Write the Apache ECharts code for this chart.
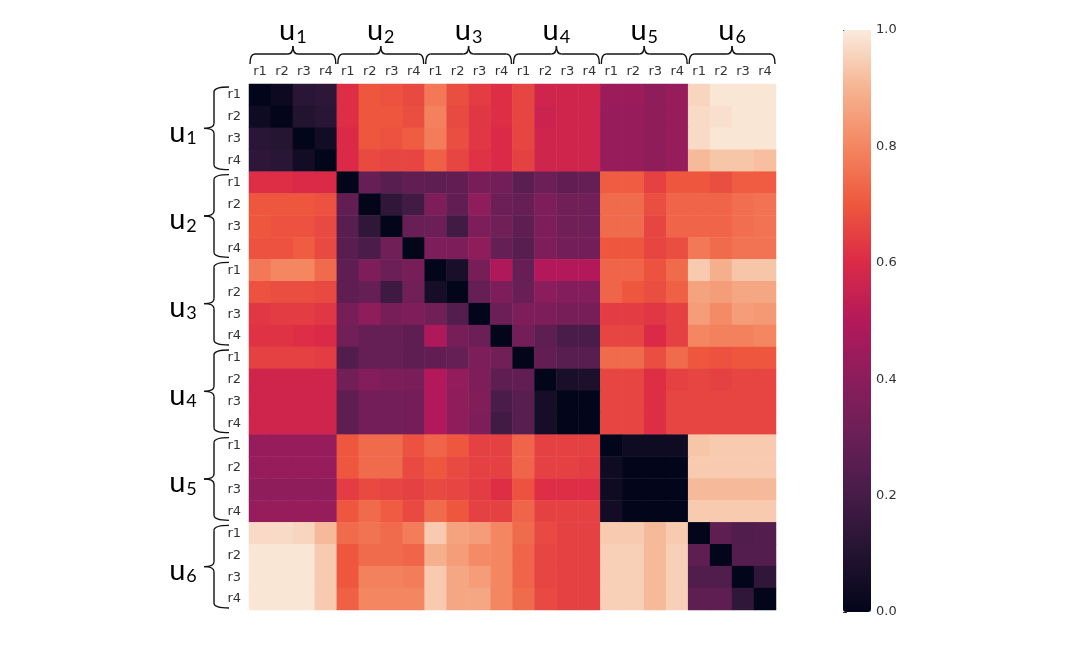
<!DOCTYPE html>
<html>
<head>
    <meta charset="utf-8">
    <script src="https://cdn.jsdelivr.net/npm/echarts@6/dist/echarts.min.js"></script>
    <style>
        html, body { margin: 0; padding: 0; background: #fff; }
    </style>
</head>
<body>
<div id="main" style="width: 1076px;height:656px;"></div>
<script type="text/javascript">

// group names and the per-group sub labels
var groups = ['1', '2', '3', '4', '5', '6'];
var subLabels = ['r1', 'r2', 'r3', 'r4'];

// distance rows, one array per user block (4 rows x 24 columns each)
var u1Rows = [
    [0.00,0.03,0.12,0.13, 0.61,0.70,0.69,0.67, 0.77,0.68,0.64,0.61, 0.66,0.57,0.57,0.57, 0.44,0.44,0.41,0.43, 0.96,0.99,0.99,0.99],
    [0.04,0.00,0.10,0.12, 0.61,0.70,0.70,0.68, 0.79,0.67,0.63,0.61, 0.66,0.56,0.57,0.57, 0.43,0.43,0.41,0.43, 0.97,0.98,0.99,0.99],
    [0.12,0.11,0.00,0.05, 0.60,0.70,0.69,0.71, 0.78,0.68,0.63,0.60, 0.66,0.57,0.57,0.57, 0.43,0.43,0.41,0.43, 0.97,0.99,0.99,0.99],
    [0.13,0.12,0.05,0.00, 0.60,0.67,0.66,0.66, 0.72,0.66,0.62,0.60, 0.65,0.57,0.57,0.57, 0.43,0.43,0.41,0.43, 0.91,0.93,0.93,0.92]
];
var u2Rows = [
    [0.61,0.61,0.60,0.60, 0.00,0.29,0.25,0.28, 0.27,0.28,0.34,0.33, 0.26,0.31,0.28,0.29, 0.71,0.71,0.65,0.70, 0.70,0.68,0.71,0.71],
    [0.70,0.70,0.70,0.69, 0.28,0.00,0.14,0.19, 0.36,0.28,0.41,0.31, 0.29,0.36,0.32,0.32, 0.74,0.74,0.68,0.73, 0.73,0.73,0.75,0.76],
    [0.70,0.69,0.69,0.67, 0.25,0.14,0.00,0.30, 0.31,0.19,0.36,0.32, 0.27,0.36,0.32,0.32, 0.74,0.74,0.66,0.73, 0.73,0.73,0.75,0.76],
    [0.69,0.69,0.71,0.67, 0.25,0.21,0.32,0.00, 0.36,0.36,0.41,0.29, 0.25,0.36,0.33,0.33, 0.70,0.70,0.66,0.68, 0.77,0.74,0.76,0.76]
];
var u3Rows = [
    [0.77,0.80,0.80,0.74, 0.27,0.36,0.31,0.34, 0.00,0.07,0.34,0.49, 0.29,0.50,0.50,0.50, 0.73,0.73,0.69,0.74, 0.94,0.89,0.93,0.93],
    [0.69,0.68,0.68,0.67, 0.27,0.29,0.18,0.32, 0.06,0.00,0.29,0.36, 0.30,0.40,0.38,0.38, 0.73,0.70,0.68,0.72, 0.86,0.85,0.87,0.87],
    [0.63,0.64,0.64,0.63, 0.34,0.41,0.34,0.36, 0.32,0.24,0.00,0.31, 0.36,0.36,0.34,0.34, 0.64,0.64,0.63,0.65, 0.85,0.81,0.85,0.84],
    [0.62,0.62,0.61,0.60, 0.32,0.29,0.29,0.27, 0.49,0.34,0.31,0.00, 0.33,0.27,0.21,0.21, 0.66,0.66,0.60,0.65, 0.80,0.79,0.79,0.80]
];
var u4Rows = [
    [0.65,0.65,0.65,0.64, 0.23,0.29,0.29,0.27, 0.28,0.29,0.36,0.32, 0.00,0.28,0.25,0.25, 0.74,0.74,0.68,0.74, 0.70,0.69,0.70,0.70],
    [0.57,0.57,0.57,0.57, 0.32,0.38,0.36,0.35, 0.50,0.42,0.36,0.27, 0.28,0.00,0.07,0.08, 0.66,0.66,0.61,0.65, 0.66,0.65,0.66,0.66],
    [0.57,0.57,0.57,0.57, 0.27,0.33,0.33,0.33, 0.50,0.41,0.37,0.21, 0.25,0.06,0.00,0.00, 0.66,0.66,0.61,0.66, 0.66,0.66,0.66,0.66],
    [0.57,0.57,0.57,0.57, 0.27,0.33,0.33,0.33, 0.50,0.41,0.36,0.19, 0.25,0.06,0.00,0.00, 0.66,0.66,0.61,0.66, 0.66,0.66,0.66,0.66]
];
var u5Rows = [
    [0.43,0.43,0.43,0.43, 0.70,0.74,0.74,0.69, 0.73,0.70,0.65,0.65, 0.73,0.65,0.65,0.65, 0.00,0.04,0.04,0.04, 0.93,0.94,0.94,0.94],
    [0.43,0.43,0.43,0.43, 0.70,0.74,0.74,0.67, 0.70,0.67,0.65,0.65, 0.73,0.65,0.65,0.64, 0.04,0.00,0.00,0.00, 0.94,0.94,0.94,0.94],
    [0.41,0.41,0.41,0.41, 0.64,0.67,0.66,0.65, 0.67,0.66,0.64,0.61, 0.69,0.61,0.61,0.61, 0.04,0.00,0.00,0.00, 0.91,0.91,0.91,0.91],
    [0.43,0.43,0.43,0.43, 0.70,0.74,0.71,0.67, 0.74,0.70,0.65,0.65, 0.73,0.65,0.65,0.65, 0.05,0.00,0.00,0.00, 0.94,0.94,0.94,0.94]
];
var u6Rows = [
    [0.97,0.97,0.96,0.91, 0.74,0.76,0.74,0.78, 0.94,0.86,0.85,0.80, 0.74,0.67,0.65,0.65, 0.94,0.94,0.91,0.94, 0.00,0.27,0.23,0.24],
    [0.99,0.99,0.99,0.94, 0.70,0.74,0.74,0.73, 0.89,0.85,0.81,0.80, 0.73,0.66,0.65,0.65, 0.95,0.95,0.91,0.95, 0.27,0.00,0.24,0.24],
    [0.99,0.99,0.99,0.94, 0.70,0.79,0.79,0.78, 0.94,0.87,0.85,0.80, 0.73,0.66,0.65,0.65, 0.95,0.95,0.91,0.95, 0.23,0.23,0.00,0.14],
    [0.99,0.99,0.99,0.94, 0.72,0.80,0.80,0.80, 0.94,0.87,0.87,0.80, 0.74,0.67,0.65,0.65, 0.95,0.95,0.91,0.95, 0.27,0.27,0.14,0.00]
];

// seaborn "rocket" colour ramp
var rocket = ['#03051A','#221331','#451C47','#691F56','#8B1D5C','#B3195A',
              '#DB2A47','#EE573E','#F48661','#F6B491','#FAEBDD'];

var allRows = [].concat(u1Rows, u2Rows, u3Rows, u4Rows, u5Rows, u6Rows);
var cats = [];
groups.forEach(function () { subLabels.forEach(function (s) { cats.push(s); }); });

var heat = [];
allRows.forEach(function (row, y) {
    row.forEach(function (v, x) { heat.push([x, y, v]); });
});

// plot box
var G = { left: 249, top: 84, width: 527, height: 526 };
var cw = G.width / 24, ch = G.height / 24;

var myChart = echarts.init(document.getElementById('main'));

var braceStyle = { stroke: '#111', lineWidth: 1.4, fill: null };
var graphics = [];

function curve(ax, ay, cx, cy, bx, by) {
    graphics.push({ type: 'bezierCurve', shape: { x1: ax, y1: ay, cpx1: cx, cpy1: cy, x2: bx, y2: by }, style: braceStyle });
}
function seg(ax, ay, bx, by) {
    graphics.push({ type: 'line', shape: { x1: ax, y1: ay, x2: bx, y2: by }, style: braceStyle });
}
function label(x, y, g) {
    graphics.push({
        type: 'text', x: x, y: y,
        style: {
            text: '{u|u}{s|' + g + '}', align: 'center', verticalAlign: 'middle',
            rich: {
                u: { fontFamily: 'Lato', fontSize: 29, fill: '#000', padding: [0, 1, 0, 0] },
                s: { fontFamily: 'Lato', fontSize: 18, fill: '#000', padding: [12, 0, 0, 0] }
            }
        }
    });
}

groups.forEach(function (g, i) {
    var r = 5;
    // top brace
    var x0 = G.left + i * 4 * cw + 1, x1 = G.left + (i + 1) * 4 * cw - 1, xm = (x0 + x1) / 2;
    var yb = 64, yh = 54, yt = 46;
    curve(x0, yb, x0, yh, x0 + r, yh);
    seg(x0 + r, yh, xm - r, yh);
    curve(xm - r, yh, xm, yh, xm, yt);
    curve(xm, yt, xm, yh, xm + r, yh);
    seg(xm + r, yh, x1 - r, yh);
    curve(x1 - r, yh, x1, yh, x1, yb);
    label(xm, 31, g);

    // left brace
    var y0 = G.top + i * 4 * ch + 3, y1 = G.top + (i + 1) * 4 * ch - 2, ym = (y0 + y1) / 2;
    var xb = 229, xh = 214, xt = 204;
    curve(xb, y0, xh, y0, xh, y0 + r);
    seg(xh, y0 + r, xh, ym - r);
    curve(xh, ym - r, xh, ym, xt, ym);
    curve(xt, ym, xh, ym, xh, ym + r);
    seg(xh, ym + r, xh, y1 - r);
    curve(xh, y1 - r, xh, y1, xb, y1);
    label(183, ym + 4, g);
});

var option = {
    backgroundColor: '#fff',
    animation: false,
    grid: [
        { left: G.left, top: G.top, width: G.width, height: G.height },
        { left: 843, top: 30, width: 28, height: 582 }
    ],
    xAxis: [
        {
            type: 'category', data: cats, position: 'top', gridIndex: 0,
            axisLine: { show: false }, axisTick: { show: false }, splitArea: { show: false },
            axisLabel: { interval: 0, fontFamily: 'DejaVu Sans', fontSize: 13, color: '#333', margin: 6 }
        },
        { type: 'value', gridIndex: 1, show: false }
    ],
    yAxis: [
        {
            type: 'category', data: cats, inverse: true, gridIndex: 0,
            axisLine: { show: false }, axisTick: { show: false }, splitArea: { show: false },
            axisLabel: { interval: 0, fontFamily: 'DejaVu Sans', fontSize: 13, color: '#333', margin: 8 }
        },
        {
            type: 'value', gridIndex: 1, position: 'right', min: 0, max: 1, interval: 0.2,
            axisLine: { show: false }, splitLine: { show: false },
            axisTick: { show: true, length: 4, lineStyle: { color: '#333' } },
            axisLabel: {
                fontFamily: 'DejaVu Sans', fontSize: 13, color: '#333', margin: 5,
                formatter: function (v) { return v.toFixed(1); }
            }
        }
    ],
    visualMap: {
        type: 'continuous', min: 0, max: 1, calculable: false, hoverLink: false,
        left: 843, top: 30, itemWidth: 28, itemHeight: 582, padding: 0,
        text: ['', ''],
        inRange: { color: rocket },
        seriesIndex: 0
    },
    graphic: graphics,
    series: [{
        type: 'heatmap',
        xAxisIndex: 0, yAxisIndex: 0,
        data: heat,
        itemStyle: { borderWidth: 0 },
        emphasis: { disabled: true }
    }]
};

myChart.setOption(option);

</script>
</body>
</html>
